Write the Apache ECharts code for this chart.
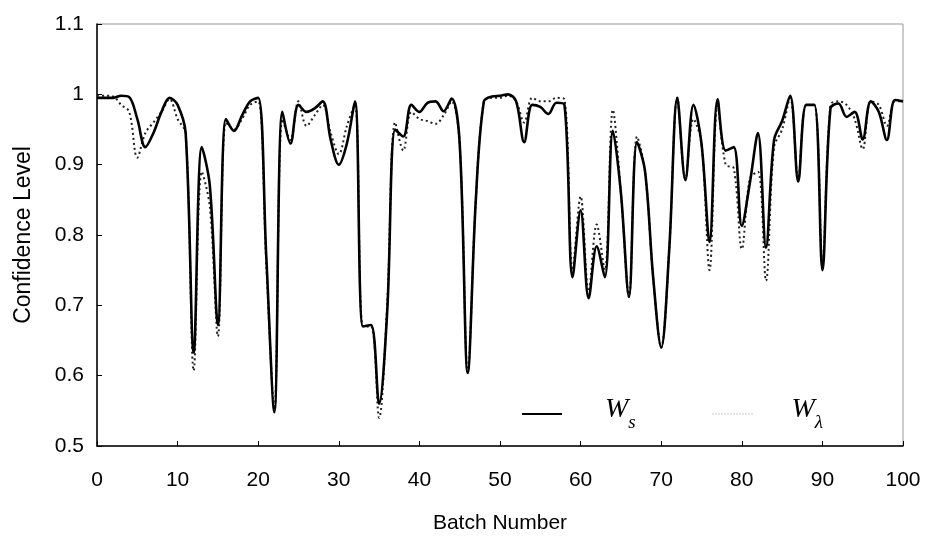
<!DOCTYPE html>
<html>
<head>
<meta charset="utf-8">
<script src="https://cdn.jsdelivr.net/npm/echarts@6/dist/echarts.min.js"></script>
<style>html,body{margin:0;padding:0;background:#fff}#c{width:931px;height:539px}</style>
</head>
<body>
<div id="c"></div>
<script>
var batches = [];
for (var i = 0; i <= 100; i++) batches.push(i);

var wsValues = [
0.995,0.995,0.995,0.998,0.996,0.965,0.925,0.945,0.975,0.995,
0.985,0.945,0.633,0.925,0.870,0.672,0.965,0.948,0.970,0.990,
0.995,0.770,0.548,0.975,0.930,0.985,0.975,0.980,0.990,0.935,
0.900,0.930,0.990,0.670,0.672,0.560,0.690,0.950,0.940,0.985,
0.975,0.988,0.990,0.976,0.994,0.930,0.604,0.850,0.990,0.997,
0.998,1.000,0.990,0.932,0.985,0.982,0.972,0.988,0.985,0.740,
0.835,0.710,0.784,0.740,0.948,0.860,0.712,0.932,0.890,0.740,
0.640,0.780,0.995,0.878,0.985,0.930,0.790,0.993,0.920,0.925,
0.813,0.874,0.945,0.782,0.935,0.962,0.998,0.876,0.985,0.985,
0.750,0.980,0.987,0.968,0.975,0.936,0.990,0.975,0.935,0.992,
0.990
];

var wlValues = [
0.998,0.998,0.997,0.985,0.975,0.910,0.945,0.960,0.975,0.993,
0.965,0.945,0.607,0.890,0.840,0.656,0.960,0.950,0.965,0.985,
0.990,0.760,0.552,0.965,0.935,0.990,0.955,0.970,0.985,0.945,
0.915,0.955,0.985,0.670,0.670,0.540,0.700,0.960,0.920,0.975,
0.965,0.962,0.958,0.970,0.990,0.930,0.605,0.850,0.990,0.995,
0.995,0.998,0.990,0.960,0.995,0.990,0.990,0.995,0.993,0.750,
0.855,0.720,0.815,0.750,0.978,0.860,0.712,0.940,0.890,0.740,
0.640,0.780,0.995,0.880,0.965,0.930,0.750,0.985,0.900,0.895,
0.780,0.880,0.890,0.735,0.925,0.950,0.995,0.880,0.985,0.985,
0.760,0.985,0.990,0.985,0.965,0.922,0.990,0.985,0.955,0.990,
0.990
];

var xTicks = [0,10,20,30,40,50,60,70,80,90,100];
var yTicks = [0.5,0.6,0.7,0.8,0.9,1.0,1.1];

function pairs(xs, ys){ return xs.map(function(x,i){ return [x, ys[i]]; }); }

var serif = 'Liberation Serif, Times New Roman, serif';
var richStyle = {
  w: { fontFamily: serif, fontStyle: 'italic', fontSize: 28, color: '#000', padding: [0,0,8,0], verticalAlign: 'top' },
  s: { fontFamily: serif, fontStyle: 'italic', fontSize: 19, color: '#000', verticalAlign: 'bottom' }
};

var chart = echarts.init(document.getElementById('c'));
chart.setOption({
  animation: false,
  backgroundColor: '#fff',
  textStyle: { fontFamily: 'Liberation Sans, Arial, sans-serif' },
  grid: { left: 97, right: 28, top: 24, bottom: 92, show: true, borderColor: '#999', borderWidth: 1 },
  legend: [
    { left: 521, top: 396, padding: 0, itemWidth: 40, itemHeight: 10,
      itemStyle: { opacity: 0 },
      data: [{ name: 'Ws' }],
      formatter: function(){ return '{w|W}{s|s}'; },
      textStyle: { padding: [0,0,0,38], rich: richStyle } },
    { left: 712, top: 396, padding: 0, itemWidth: 41, itemHeight: 10,
      itemStyle: { opacity: 0 },
      data: [{ name: 'Wλ', lineStyle: { color: '#999', width: 1, type: [1, 2] } }],
      formatter: function(){ return '{w|W}{s|λ}'; },
      textStyle: { padding: [0,0,0,33], rich: richStyle } }
  ],
  xAxis: {
    type: 'value', min: 0, max: 100, interval: 10,
    name: 'Batch Number', nameLocation: 'middle', nameGap: 67,
    nameTextStyle: { fontSize: 21, color: '#000' },
    axisLine: { lineStyle: { color: '#000', width: 1.5 } },
    axisTick: { inside: true, length: 5, lineStyle: { color: '#000' } },
    axisLabel: { fontSize: 21, color: '#000', margin: 24,
      formatter: function(v){ return xTicks.indexOf(v) >= 0 ? String(v) : ''; } },
    splitLine: { show: false }
  },
  yAxis: {
    type: 'value', min: 0.5, max: 1.1, interval: 0.1,
    name: 'Confidence Level', nameLocation: 'middle', nameGap: 62,
    nameTextStyle: { fontSize: 23, color: '#000' },
    axisLine: { show: true, lineStyle: { color: '#000', width: 1.5 } },
    axisTick: { show: true, inside: true, length: 5, lineStyle: { color: '#000' } },
    axisLabel: { fontSize: 21, color: '#000', margin: 13,
      formatter: function(v){ var r = Math.round(v*10)/10; return yTicks.indexOf(r) >= 0 ? String(r) : ''; } },
    splitLine: { show: false }
  },
  series: [
    { name: 'Ws', type: 'line', data: pairs(batches, wsValues), smooth: 0.35, showSymbol: false, symbol: 'none',
      lineStyle: { color: '#000', width: 2.6 }, itemStyle: { color: '#000' }, z: 3 },
    { name: 'Wλ', type: 'line', data: pairs(batches, wlValues), smooth: 0.35, showSymbol: false, symbol: 'none',
      lineStyle: { color: '#222', width: 2, type: [2, 3] }, itemStyle: { color: '#555' }, z: 2 }
  ]
});
</script>
</body>
</html>
